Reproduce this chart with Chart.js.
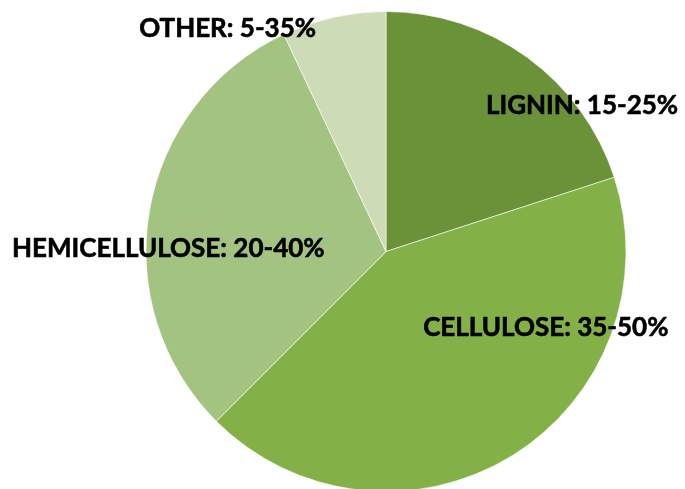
<!DOCTYPE html>
<html>
<head>
<meta charset="utf-8">
<script src="https://cdn.jsdelivr.net/npm/chart.js@4"></script>
<style>
  html, body { margin: 0; padding: 0; background: #fff; overflow: hidden; }
  #wrap { width: 685px; height: 489px; }
</style>
</head>
<body>
<div id="wrap"><canvas id="pie" width="685" height="489"></canvas></div>
<script>
// biomass composition (share of the pie) and the range printed on each label
const components = ["LIGNIN", "CELLULOSE", "HEMICELLULOSE", "OTHER"];
const shares = [20, 42.5, 30.5, 7];
const ranges = ["15-25%", "35-50%", "20-40%", "5-35%"];
const colors = ["#6a9239", "#83b047", "#a2c480", "#cedbb7"];

// where each label sits: angle clockwise from 12 o'clock, and distance as a fraction of the radius
const labelAngle = [53.2, 115.2, 271, 324.7];
const labelDist = [1.02, 0.736, 0.907, 1.142];

const labelPlugin = {
  id: 'sliceLabels',
  afterDatasetsDraw(chart) {
    const ctx = chart.ctx;
    const arcs = chart.getDatasetMeta(0).data;
    ctx.save();
    ctx.font = 'bold 26px Lato';
    ctx.fillStyle = '#000';
    ctx.strokeStyle = '#000';
    ctx.lineWidth = 0.6;
    ctx.textAlign = 'center';
    ctx.textBaseline = 'alphabetic';
    arcs.forEach((arc, i) => {
      const r = arc.outerRadius * labelDist[i];
      const a = labelAngle[i] * Math.PI / 180;
      const x = arc.x + r * Math.sin(a);
      const y = arc.y - r * Math.cos(a);
      const text = components[i] + ': ' + ranges[i];
      const m = ctx.measureText(text);
      const ty = y + m.actualBoundingBoxAscent / 2;
      ctx.fillText(text, x, ty);
      ctx.strokeText(text, x, ty);
    });
    ctx.restore();
  }
};

new Chart(document.getElementById('pie'), {
  type: 'pie',
  data: {
    labels: components,
    datasets: [{
      data: shares,
      backgroundColor: colors,
      borderColor: '#ffffff',
      borderWidth: 0.6
    }]
  },
  options: {
    responsive: false,
    animation: false,
    radius: 240,
    layout: { padding: { left: 87, right: 0, top: 14, bottom: 0 } },
    plugins: {
      legend: { display: false },
      tooltip: { enabled: false }
    }
  },
  plugins: [labelPlugin]
});
</script>
</body>
</html>
